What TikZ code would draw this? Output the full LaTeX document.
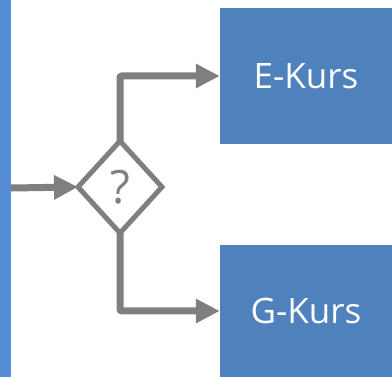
\documentclass[tikz,border=0pt]{standalone}
\usepackage{fontspec}
\setmainfont{Open Sans}
\usetikzlibrary{shapes.geometric,arrows.meta}
\definecolor{boxblue}{HTML}{4F81BD}
\definecolor{barblue}{HTML}{558ED5}
\definecolor{linegray}{HTML}{7F7F7F}
\tikzset{
  kurs/.style={rectangle, fill=boxblue, text=white, inner sep=0pt, minimum width=172pt, font=\fontsize{35}{40}\selectfont},
  conn/.style={draw=linegray, line width=7pt, -{Triangle[length=24pt,width=23pt]}},
  decision/.style={diamond, draw=linegray, line width=5pt, inner sep=0pt, outer sep=0pt, minimum width=84pt, minimum height=92pt, text=linegray, font=\fontsize{46}{50}\selectfont}
}
\begin{document}
\begin{tikzpicture}[x=1pt,y=-1pt]
\useasboundingbox (0,0) rectangle (392,377);
\fill[barblue] (0,0) rectangle (11,377);
\coordinate (src) at (11,188);
\node[decision] (d) at (120,187) {};
\node[text=linegray, font=\fontsize{46}{50}\selectfont, inner sep=0pt] (q) at (d.center) {?};
\node[kurs, minimum height=136pt] (e) at (306,76) {E-Kurs};
\node[kurs, minimum height=132pt] (g) at (306,311) {G-Kurs};
\draw[conn] (src) -- (d.west);
\draw[conn, rounded corners=2pt] (d.north) |- (e.west);
\draw[conn, rounded corners=2pt] (d.south) |- (g.west);
\end{tikzpicture}
\end{document}
